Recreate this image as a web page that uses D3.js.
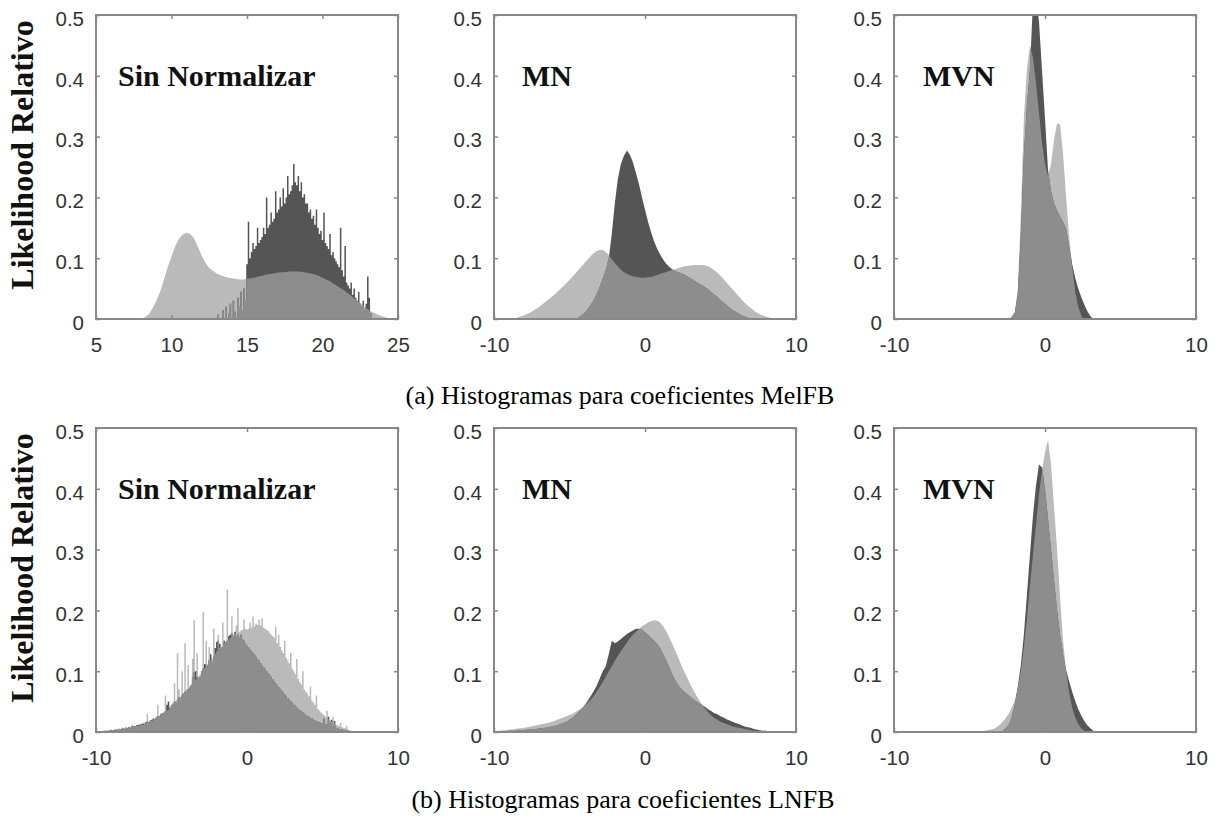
<!DOCTYPE html>
<html>
<head>
<meta charset="utf-8">
<script src="https://cdn.jsdelivr.net/npm/d3@7"></script>
<style>
  html, body { margin: 0; padding: 0; background: #fff; }
  svg { display: block; }
</style>
</head>
<body>
<svg id="fig" width="1217" height="823"></svg>
<script>
// ---------------------------------------------------------------------------
// Data: relative likelihood histograms (two speech corpora overlaid)
// Each series: centre of the first bin, bin width, and the bin heights.
// ---------------------------------------------------------------------------
const yTicks = [0, 0.1, 0.2, 0.3, 0.4, 0.5];
const rawMelTicks = [5, 10, 15, 20, 25];
const normTicks = [-10, 0, 10];
const methodLabels = ["Sin Normalizar", "MN", "MVN"];
const captions = ["(a) Histogramas para coeficientes MelFB", "(b) Histogramas para coeficientes LNFB"];
const yTitle = "Likelihood Relativo";

// MelFB, sin normalizar
const melRawLightBins = [8.0, 0.25];
const melRawLight = [
  0.0, 0.003, 0.008, 0.018, 0.03, 0.045, 0.065, 0.085, 0.103, 0.12,
  0.132, 0.139, 0.142, 0.14, 0.132, 0.119, 0.104, 0.092, 0.084, 0.079,
  0.075, 0.072, 0.07, 0.068, 0.067, 0.066, 0.065, 0.065, 0.066, 0.067,
  0.068, 0.07, 0.071, 0.073, 0.074, 0.075, 0.076, 0.077, 0.077, 0.078,
  0.078, 0.078, 0.078, 0.077, 0.076, 0.075, 0.073, 0.071, 0.068, 0.065,
  0.062, 0.058, 0.054, 0.05, 0.046, 0.041, 0.036, 0.031, 0.026, 0.021,
  0.016, 0.012, 0.009, 0.006, 0.004, 0.002, 0.001, 0.0
];
const melRawDarkBins = [13.0, 0.1];
const melRawDark = [
  0, 0.008, 0, 0, 0.015, 0, 0.02, 0, 0.01, 0.025,
  0, 0.03, 0.012, 0, 0.035, 0.02, 0.045, 0.015, 0.05, 0.03,
  0.09, 0.16, 0.1, 0.11, 0.125, 0.115, 0.12, 0.15, 0.125, 0.13,
  0.135, 0.15, 0.14, 0.2, 0.15, 0.155, 0.175, 0.16, 0.165, 0.21,
  0.175, 0.18, 0.2, 0.185, 0.215, 0.19, 0.2, 0.235, 0.205, 0.21,
  0.22, 0.255, 0.225, 0.22, 0.235, 0.21, 0.225, 0.2, 0.205, 0.19,
  0.19, 0.175, 0.18, 0.165, 0.17, 0.155, 0.18, 0.15, 0.14, 0.145,
  0.13, 0.175, 0.125, 0.12, 0.115, 0.14, 0.105, 0.11, 0.1, 0.095,
  0.09, 0.085, 0.15, 0.08, 0.07, 0.12, 0.06, 0.055, 0.05, 0.06,
  0.04, 0.05, 0.035, 0.03, 0.045, 0.025, 0.02, 0.03, 0.015, 0.025,
  0.07, 0.035, 0.01, 0, 0
];

// MelFB, MN
const melMnLightBins = [-8.5, 0.25];
const melMnLight = [
  0.002, 0.004, 0.006, 0.009, 0.012, 0.016, 0.02, 0.025, 0.03, 0.035,
  0.04, 0.046, 0.052, 0.058, 0.064, 0.071, 0.078, 0.085, 0.092, 0.099,
  0.106, 0.111, 0.114, 0.113, 0.108, 0.1, 0.092, 0.085, 0.079, 0.075,
  0.072, 0.07, 0.069, 0.068, 0.068, 0.069, 0.07, 0.072, 0.074, 0.076,
  0.078, 0.08, 0.082, 0.084, 0.086, 0.087, 0.088, 0.089, 0.089, 0.089,
  0.088, 0.086, 0.082, 0.077, 0.071, 0.064, 0.057, 0.05, 0.043, 0.036,
  0.029, 0.023, 0.018, 0.013, 0.009, 0.006, 0.004, 0.002, 0.001, 0
];
const melMnDarkBins = [-4.4, 0.2];
const melMnDark = [
  0.003, 0.006, 0.01, 0.016, 0.023, 0.031, 0.041, 0.053, 0.066, 0.08,
  0.1, 0.14, 0.19, 0.23, 0.255, 0.268, 0.277, 0.27, 0.258, 0.24,
  0.222, 0.2, 0.18, 0.16, 0.143, 0.128, 0.116, 0.106, 0.098, 0.091,
  0.086, 0.082, 0.079, 0.077, 0.075, 0.073, 0.07, 0.067, 0.064, 0.061,
  0.058, 0.055, 0.052, 0.048, 0.044, 0.04, 0.036, 0.031, 0.027, 0.023,
  0.019, 0.015, 0.012, 0.009, 0.006, 0.004, 0.002, 0.001
];

// MelFB, MVN
const melMvnLightBins = [-2.4, 0.2];
const melMvnLight = [
  0.0, 0.004, 0.012, 0.05, 0.17, 0.33, 0.41, 0.45, 0.43, 0.39,
  0.34, 0.29, 0.255, 0.235, 0.255, 0.295, 0.322, 0.32, 0.27, 0.2,
  0.135, 0.085, 0.045, 0.02, 0.006
];
const melMvnDarkBins = [-2.4, 0.2];
const melMvnDark = [
  0.0, 0.003, 0.01, 0.04, 0.14, 0.27, 0.35, 0.41, 0.52, 0.53,
  0.49, 0.41, 0.33, 0.245, 0.21, 0.19, 0.178, 0.168, 0.16, 0.148,
  0.12, 0.09, 0.068, 0.05, 0.036, 0.024, 0.013, 0.005, 0.0
];

// LNFB, sin normalizar
const lnRawLightBins = [-9.5, 0.1];
const lnRawLight = [
  0.002, 0.002, 0.003, 0.002, 0.003,
  0.004, 0.003, 0.004, 0.005, 0.004, 0.006, 0.005, 0.006, 0.007, 0.006,
  0.008, 0.007, 0.009, 0.008, 0.012, 0.009, 0.01, 0.011, 0.01, 0.013,
  0.014, 0.012, 0.016, 0.015, 0.03, 0.017, 0.019, 0.018, 0.022, 0.021,
  0.025, 0.045, 0.027, 0.03, 0.029, 0.033, 0.06, 0.035, 0.037, 0.04,
  0.045, 0.048, 0.08, 0.05, 0.13, 0.07, 0.058, 0.1, 0.064, 0.146,
  0.07, 0.11, 0.075, 0.078, 0.12, 0.184, 0.086, 0.13, 0.092, 0.095,
  0.1, 0.197, 0.105, 0.15, 0.112, 0.14, 0.118, 0.121, 0.17, 0.128,
  0.133, 0.16, 0.138, 0.141, 0.18, 0.146, 0.148, 0.234, 0.152, 0.155,
  0.19, 0.159, 0.161, 0.175, 0.204, 0.165, 0.167, 0.168, 0.185, 0.17,
  0.168, 0.17, 0.18, 0.172, 0.19, 0.174, 0.178, 0.176, 0.185, 0.175,
  0.187, 0.172, 0.17, 0.168, 0.166, 0.163, 0.16, 0.158, 0.155, 0.173,
  0.146, 0.16, 0.14, 0.135, 0.13, 0.15, 0.122, 0.118, 0.113, 0.13,
  0.104, 0.1, 0.095, 0.12, 0.087, 0.082, 0.078, 0.1, 0.07, 0.066,
  0.063, 0.059, 0.075, 0.052, 0.048, 0.045, 0.06, 0.038, 0.035, 0.032,
  0.03, 0.028, 0.025, 0.035, 0.021, 0.019, 0.017, 0.025, 0.014, 0.012,
  0.011, 0.01, 0.015, 0.008, 0.007, 0.006, 0.01, 0.004, 0.003, 0.002
];
const lnRawDarkBins = [-9.5, 0.1];
const lnRawDark = [
  0.001, 0.002, 0.001, 0.002, 0.002,
  0.003, 0.002, 0.003, 0.004, 0.003, 0.005, 0.004, 0.005, 0.006, 0.005,
  0.007, 0.006, 0.008, 0.007, 0.009, 0.01, 0.009, 0.011, 0.012, 0.011,
  0.013, 0.014, 0.013, 0.016, 0.017, 0.016, 0.019, 0.02, 0.022, 0.021,
  0.024, 0.026, 0.025, 0.029, 0.031, 0.03, 0.034, 0.045, 0.05, 0.04,
  0.043, 0.046, 0.05, 0.048, 0.053, 0.057, 0.056, 0.06, 0.064, 0.066,
  0.066, 0.07, 0.072, 0.076, 0.09, 0.098, 0.1, 0.09, 0.088, 0.09,
  0.1, 0.105, 0.112, 0.11, 0.108, 0.118, 0.128, 0.115, 0.125, 0.138,
  0.148, 0.15, 0.145, 0.138, 0.14, 0.15, 0.145, 0.15, 0.158, 0.16,
  0.162, 0.158, 0.165, 0.158, 0.16, 0.155, 0.16, 0.152, 0.15, 0.145,
  0.142, 0.14, 0.136, 0.133, 0.13, 0.127, 0.123, 0.12, 0.117, 0.113,
  0.11, 0.107, 0.103, 0.1, 0.097, 0.094, 0.09, 0.087, 0.084, 0.08,
  0.077, 0.074, 0.071, 0.068, 0.065, 0.062, 0.059, 0.056, 0.053, 0.05,
  0.048, 0.045, 0.043, 0.04, 0.038, 0.036, 0.034, 0.032, 0.03, 0.028,
  0.026, 0.025, 0.023, 0.022, 0.02, 0.019, 0.018, 0.017, 0.016, 0.015,
  0.014, 0.022, 0.013, 0.012, 0.025, 0.015, 0.02, 0.009, 0.018, 0.007,
  0.006, 0.005, 0.005, 0.004, 0.003, 0.003, 0.002, 0.002, 0.001, 0.001
];

// LNFB, MN
const lnMnLightBins = [-10.0, 0.2];
const lnMnLight = [
  0.001, 0.002, 0.002, 0.003, 0.003, 0.004, 0.004, 0.005, 0.006, 0.006,
  0.007, 0.008, 0.009, 0.01, 0.011, 0.012, 0.013, 0.014, 0.015, 0.017,
  0.018, 0.02, 0.022, 0.024, 0.026, 0.028, 0.03, 0.033, 0.036, 0.039,
  0.043, 0.048, 0.053, 0.059, 0.066, 0.074, 0.082, 0.091, 0.1, 0.108,
  0.117, 0.125, 0.133, 0.14, 0.147, 0.154, 0.16, 0.165, 0.17, 0.174,
  0.177, 0.18, 0.182, 0.184, 0.183, 0.18, 0.174, 0.166, 0.156, 0.145,
  0.134, 0.122, 0.11, 0.099, 0.089, 0.079, 0.069, 0.06, 0.052, 0.045,
  0.038, 0.032, 0.027, 0.023, 0.02, 0.017, 0.015, 0.013, 0.011, 0.009,
  0.008, 0.007, 0.006, 0.005, 0.004, 0.003, 0.002, 0.002, 0.001, 0.001,
  0.0
];
const lnMnDarkBins = [-9.6, 0.2];
const lnMnDark = [
  0.001, 0.001, 0.001, 0.002, 0.002, 0.002, 0.003, 0.003, 0.003, 0.004,
  0.004, 0.005, 0.005, 0.006, 0.006, 0.007, 0.008, 0.009, 0.01, 0.011,
  0.013, 0.015, 0.017, 0.02, 0.023, 0.028, 0.033, 0.038, 0.044, 0.051,
  0.059, 0.067, 0.076, 0.088, 0.1, 0.108, 0.128, 0.15, 0.146, 0.149,
  0.153, 0.157, 0.161, 0.164, 0.167, 0.17, 0.17, 0.168, 0.164, 0.16,
  0.155, 0.15, 0.145, 0.138, 0.128, 0.118, 0.107, 0.095, 0.085, 0.077,
  0.071, 0.066, 0.062, 0.058, 0.054, 0.05, 0.047, 0.044, 0.041, 0.037,
  0.034, 0.031, 0.029, 0.026, 0.024, 0.021, 0.019, 0.017, 0.015, 0.013,
  0.011, 0.009, 0.008, 0.007, 0.005, 0.004, 0.003, 0.002, 0.002, 0.001,
  0.001
];

// LNFB, MVN
const lnMvnLightBins = [-4.0, 0.2];
const lnMvnLight = [
  0.002, 0.003, 0.004, 0.005, 0.008, 0.012, 0.017, 0.023, 0.03, 0.04,
  0.052, 0.072, 0.1, 0.14, 0.185, 0.24, 0.29, 0.34, 0.39, 0.43,
  0.46, 0.48, 0.44, 0.37, 0.3, 0.22, 0.15, 0.1, 0.065, 0.04,
  0.024, 0.013, 0.006, 0.002, 0.0
];
const lnMvnDarkBins = [-2.8, 0.2];
const lnMvnDark = [
  0.002, 0.006, 0.012, 0.025, 0.045, 0.075, 0.11, 0.16, 0.225, 0.29,
  0.355, 0.405, 0.44, 0.435, 0.4, 0.35, 0.3, 0.25, 0.2, 0.16,
  0.128, 0.102, 0.083, 0.066, 0.051, 0.038, 0.027, 0.018, 0.011, 0.006,
  0.002, 0.0
];

// ---------------------------------------------------------------------------
// Layout and styling
// ---------------------------------------------------------------------------
const colLeft = [96, 494, 894];
const rowTop = [15, 428];
const plotW = 302, plotH = 304;
const labelInset = [22, 28, 29];
const LIGHT = "#bababa", MID = "#8d8d8d", DARK = "#555555";
const FRAME = "#888888";

// stepped = draw bins as flat bars; otherwise join the bin centres
const series = (bins, values, stepped) => ({ c0: bins[0], w: bins[1], v: values, stepped });

const panels = [
  { row: 0, col: 0, domain: [5, 25], ticks: rawMelTicks,
    light: series(melRawLightBins, melRawLight, false), dark: series(melRawDarkBins, melRawDark, true) },
  { row: 0, col: 1, domain: [-10, 10], ticks: normTicks,
    light: series(melMnLightBins, melMnLight, false), dark: series(melMnDarkBins, melMnDark, false) },
  { row: 0, col: 2, domain: [-10, 10], ticks: normTicks,
    light: series(melMvnLightBins, melMvnLight, false), dark: series(melMvnDarkBins, melMvnDark, false) },
  { row: 1, col: 0, domain: [-10, 10], ticks: normTicks,
    light: series(lnRawLightBins, lnRawLight, true), dark: series(lnRawDarkBins, lnRawDark, true) },
  { row: 1, col: 1, domain: [-10, 10], ticks: normTicks,
    light: series(lnMnLightBins, lnMnLight, false), dark: series(lnMnDarkBins, lnMnDark, false) },
  { row: 1, col: 2, domain: [-10, 10], ticks: normTicks,
    light: series(lnMvnLightBins, lnMvnLight, false), dark: series(lnMvnDarkBins, lnMvnDark, false) }
];

const svg = d3.select("#fig");
svg.append("rect").attr("width", 1217).attr("height", 823).attr("fill", "#fff");
const defs = svg.append("defs");

// outline points of one histogram
function outline(s) {
  const n = s.v.length;
  if (s.stepped) {
    const pts = s.v.map((v, i) => ({ x: s.c0 + (i - 0.5) * s.w, v }));
    pts.push({ x: s.c0 + (n - 0.5) * s.w, v: s.v[n - 1] });
    return pts;
  }
  const pts = s.v.map((v, i) => ({ x: s.c0 + i * s.w, v }));
  pts.unshift({ x: s.c0 - 0.5 * s.w, v: 0 });
  pts.push({ x: s.c0 + (n - 0.5) * s.w, v: 0 });
  return pts;
}

function styleAxisText(sel) {
  sel.attr("font-family", "'Liberation Sans', Arial, sans-serif")
     .attr("font-size", 20.5)
     .attr("fill", "#333");
}

panels.forEach((p, k) => {
  const left = colLeft[p.col], top = rowTop[p.row];
  const x = d3.scaleLinear().domain(p.domain).range([0, plotW]);
  const y = d3.scaleLinear().domain([0, 0.5]).range([plotH, 0]);
  const g = svg.append("g").attr("transform", `translate(${left},${top})`);

  defs.append("clipPath").attr("id", `plot${k}`)
    .append("rect").attr("width", plotW).attr("height", plotH);

  const areaFor = s => d3.area()
    .curve(s.stepped ? d3.curveStepAfter : d3.curveLinear)
    .x(d => x(d.x))
    .y0(y(0))
    .y1(d => y(d.v))(outline(s));

  const lightD = areaFor(p.light);
  const darkD = areaFor(p.dark);
  defs.append("clipPath").attr("id", `under${k}`).append("path").attr("d", lightD);

  const marks = g.append("g").attr("clip-path", `url(#plot${k})`);
  marks.append("path").attr("d", lightD).attr("fill", LIGHT);
  marks.append("path").attr("d", darkD).attr("fill", DARK);
  // where both histograms overlap
  marks.append("path").attr("d", darkD).attr("fill", MID).attr("clip-path", `url(#under${k})`);

  // box with inward ticks on all four sides
  const fmt = d => String(d);
  const bottom = g.append("g").attr("transform", `translate(0,${plotH})`)
    .call(d3.axisBottom(x).tickValues(p.ticks).tickSize(-4).tickSizeOuter(0).tickPadding(18).tickFormat(fmt));
  const leftAx = g.append("g")
    .call(d3.axisLeft(y).tickValues(yTicks).tickSize(-4).tickSizeOuter(0).tickPadding(12).tickFormat(fmt));
  const topAx = g.append("g")
    .call(d3.axisTop(x).tickValues(p.ticks).tickSize(-4).tickSizeOuter(0).tickFormat(""));
  const rightAx = g.append("g").attr("transform", `translate(${plotW},0)`)
    .call(d3.axisRight(y).tickValues(yTicks).tickSize(-4).tickSizeOuter(0).tickFormat(""));

  [bottom, leftAx, topAx, rightAx].forEach(a => {
    a.select(".domain").remove();
    a.selectAll(".tick line").attr("stroke", FRAME).attr("stroke-width", 1.5);
  });
  topAx.selectAll("text").remove();
  rightAx.selectAll("text").remove();
  bottom.selectAll("text").call(styleAxisText);
  leftAx.selectAll("text").call(styleAxisText).attr("dy", "0.5em");

  g.append("rect")
    .attr("width", plotW).attr("height", plotH)
    .attr("fill", "none").attr("stroke", FRAME).attr("stroke-width", 2);

  g.append("text")
    .attr("x", labelInset[p.col]).attr("y", 71)
    .attr("font-family", "'Liberation Serif', 'Times New Roman', serif")
    .attr("font-weight", "bold").attr("font-size", 30).attr("fill", "#111")
    .text(methodLabels[p.col]);
});

// y-axis titles
rowTop.forEach(top => {
  svg.append("text")
    .attr("transform", `translate(33,${top + plotH / 2 - 12}) rotate(-90)`)
    .attr("text-anchor", "middle")
    .attr("font-family", "'Liberation Serif', 'Times New Roman', serif")
    .attr("font-weight", "bold").attr("font-size", 32).attr("fill", "#111")
    .text(yTitle);
});

// captions
const captionBase = [404, 808];
const captionMid = [620, 623];
captions.forEach((c, i) => {
  svg.append("text")
    .attr("x", captionMid[i]).attr("y", captionBase[i])
    .attr("text-anchor", "middle")
    .attr("font-family", "'Liberation Serif', 'Times New Roman', serif")
    .attr("font-size", 26).attr("fill", "#000")
    .text(c);
});
</script>
</body>
</html>
